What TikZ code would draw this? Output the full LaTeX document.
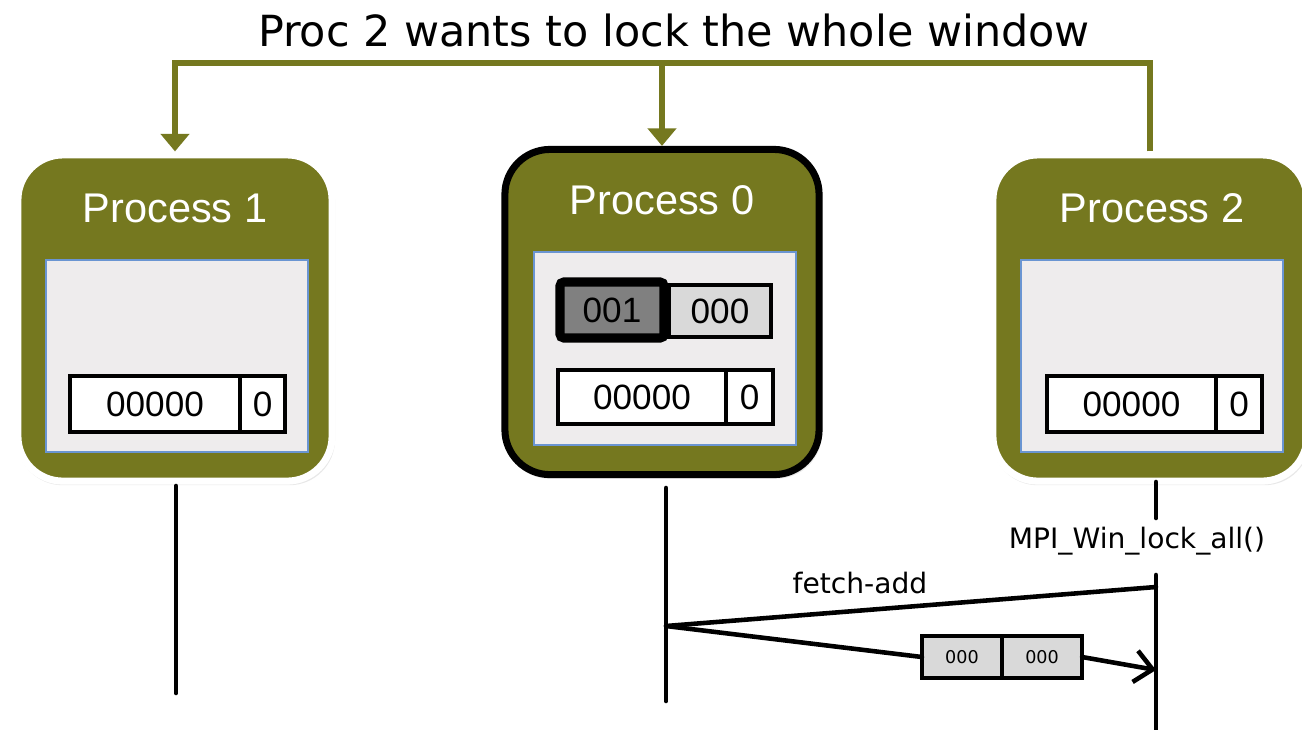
\documentclass[tikz,border=0pt]{standalone}
\usepackage{fontspec}
\usepackage{xcolor}
\setmainfont{Liberation Sans}
\newfontfamily\verdanafont{DejaVu Sans}
\definecolor{procGreen}{HTML}{75781F}
\definecolor{panelGray}{HTML}{EEECED}
\definecolor{panelEdge}{HTML}{6A95D2}
\definecolor{lockDark}{HTML}{808080}
\definecolor{cellLight}{HTML}{D9D9D9}
\usetikzlibrary{positioning,arrows.meta,shadows}

\begin{document}
\begin{tikzpicture}[x=0.01cm, y=-0.01cm,
  procbox/.style={rounded corners=0.45cm, fill=procGreen, draw=white, line width=2pt,
    minimum width=3.14cm, minimum height=3.26cm,
    drop shadow={opacity=0.18, shadow xshift=0.3pt, shadow yshift=-0.6pt, shadow scale=1.012}},
  proclabel/.style={text=white, font=\fontsize{11.8}{14}\selectfont},
  panel/.style={fill=panelGray, draw=panelEdge, line width=0.5pt, minimum width=2.62cm, minimum height=1.92cm},
  cell/.style={draw, fill=white, line width=1.15pt, outer sep=0pt, minimum height=0.56cm, font=\fontsize{10}{12}\selectfont},
  bus/.style={procGreen, line width=1.7pt, -{Triangle[width=8pt,length=5pt]}},
  timeline/.style={line width=1.3pt, line cap=round},
  msg/.style={font=\verdanafont\fontsize{8}{10}\selectfont}]
  \fill[white] (0,0) rectangle (1302,729);
  \useasboundingbox (0,0) rectangle (1302,729);
  \node[font=\verdanafont\fontsize{12.2}{15}\selectfont] (title) at (674,30) {Proc 2 wants to lock the whole window};
  % process boxes
  \node[procbox] (P1) at (175,318) {};
  \node[procbox, draw=black, minimum height=3.25cm] (P0) at (662,312) {};
  \node[procbox] (P2) at (1150,318) {};
  \node[proclabel] (L1) at (175,208) {Process 1};
  \node[proclabel] (L0) at (662,200) {Process 0};
  \node[proclabel] (L2) at (1152,208) {Process 2};
  \node[panel] (W1) at (177,356) {};
  \node[panel, minimum height=1.93cm] (W0) at (665,348.5) {};
  \node[panel] (W2) at (1152,356) {};
  % window cells
  \node[cell, minimum width=1.7cm] (A1) at (155,404) {00000};
  \node[cell, minimum width=0.45cm, right=0pt of A1] (B1) {0};
  \node[cell, minimum width=1.68cm, minimum height=0.54cm] (A0) at (642,397) {00000};
  \node[cell, minimum width=0.47cm, minimum height=0.54cm, right=0pt of A0] (B0) {0};
  \node[cell, minimum width=1.69cm] (A2) at (1131.5,404) {00000};
  \node[cell, minimum width=0.46cm, right=0pt of A2] (B2) {0};
  % lock cells
  \node[cell, fill=cellLight, minimum width=1.02cm, minimum height=0.52cm] (K1) at (720,311) {000};
  \node[cell, fill=lockDark, line width=2.6pt, rounded corners=0.04cm, minimum width=1.04cm] (K0) at (612,310) {001};
  % lock request
  \coordinate (busL) at (175,63);
  \coordinate (busM) at (662,63);
  \coordinate (busR) at (1150,63);
  \draw[bus] (P2.north) -- (busR) -- (busL) -- (P1.north);
  \draw[bus] (busM) -- (P0.north);
  % timelines
  \coordinate (t1a) at (176,486);
  \coordinate (t1b) at (176,693);
  \coordinate (t0a) at (666,488);
  \coordinate (t0b) at (666,701);
  \coordinate (t2a) at (1156,482);
  \coordinate (t2b) at (1156,518);
  \coordinate (t2c) at (1156,575);
  \coordinate (t2d) at (1156,735);
  \draw[timeline] (t1a) -- (t1b);
  \draw[timeline] (t0a) -- (t0b);
  \draw[timeline] (t2a) -- (t2b);
  \draw[timeline] (t2c) -- (t2d);
  \node[msg] (lockall) at (1137,541) {MPI\_Win\_lock\_all()};
  % fetch-add and reply
  \coordinate (fa0) at (666,626);
  \coordinate (fa2) at (1156,587);
  \coordinate (rp2) at (1156,670);
  \draw[timeline] (fa0) -- (fa2);
  \node[msg] (falabel) at (860,583) {fetch-add};
  \node[cell, fill=cellLight, minimum width=0.8cm, minimum height=0.42cm, font=\verdanafont\fontsize{5}{6}\selectfont] (R1) at (962,657) {000};
  \node[cell, fill=cellLight, minimum width=0.8cm, minimum height=0.42cm, font=\verdanafont\fontsize{5}{6}\selectfont, right=0pt of R1] (R2) {000};
  \draw[timeline] (fa0) -- (R1.west);
  \draw[timeline, -{Straight Barb[length=5pt,width=9pt]}] (R2.east) -- (rp2);
\end{tikzpicture}
\end{document}
